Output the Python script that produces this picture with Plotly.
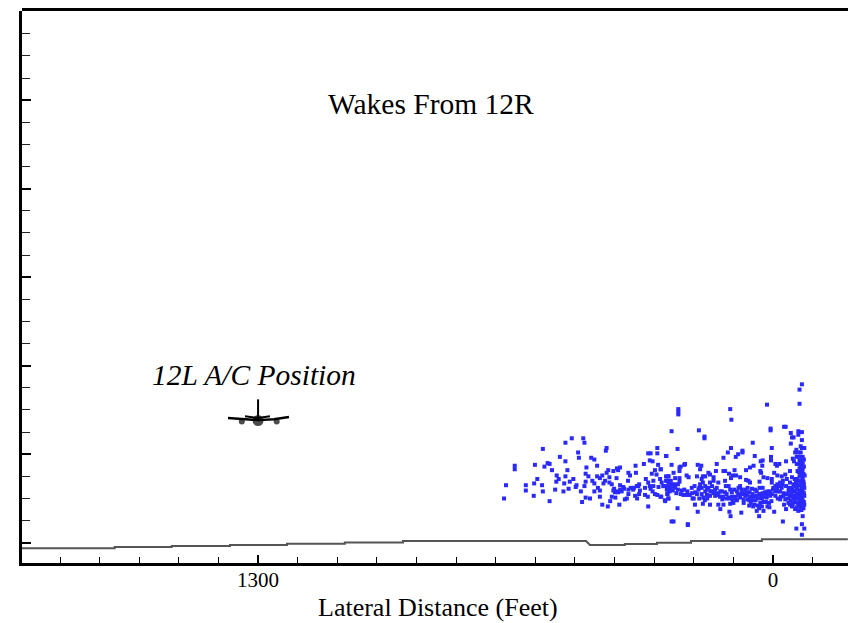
import plotly.graph_objects as go

wake_points = [
(679,50),(674,65),(652,87),(652,83),(624,65),(624,59),(604,53),(603,67),(595,72),(601,88),(581,106),(583,65),(581,58),(577,86),(569,90),(564,89),(564,47),(558,82),(550,60),(546,76),(547,69),(541,72),(538,97),(529,58),(527,67),(524,75),(524,92),(524,113),(519,82),(516,61),(513,69),(508,118),(504,72),(498,63),(496,65),(492,102),(490,96),(485,58),(482,46),(479,118),(476,113),(473,78),(476,64),(473,69),(473,51),(471,85),(466,75),(462,50),(459,96),(451,94),(456,70),(451,67),(451,58),(444,87),(444,75),(442,62),(437,73),(437,59),(437,52),(431,76),(431,43),(428,67),(424,70),(422,104),(420,107),(420,79),(417,41),(416,82),(413,74),(413,68),(407,66),(411,47),(407,52),(403,81),(401,61),(398,51),(395,73),(394,84),(391,82),(386,85),(388,43),(391,57),(386,65),(382,58),(378,63),(374,49),(369,50),(366,70),(365,79),(361,76),(365,55),(359,62),(353,60),(348,53),(347,87),(346,79),(344,64),(343,50),(338,66),(336,59),(338,55),(326,89),(323,62),(321,72),(323,54),(316,52),(315,41),(315,101),(309,101),(311,93),(304,92),(315,68),(306,78),(298,82),(294,77),(292,107),(292,101),(290,88),(284,83),(269,98),(264,75),(285,72),(302,70),(309,61),(304,58),(298,55),(292,54),(284,52),(273,48),(264,50),(277,64),(289,63),(267,70),(266,64),(264,59),(267,55),
(399,57),(393,58),(386,60),(376,61),(403,59),(365,60),(351,62),(340,64),(311,64),(302,64),
(-73,179),(-67,173),(-67,157),(15,156),(108,151),(105,139),(239,151),(239,148),(239,145),(256,126),(187,127),(173,120),(173,118),(-28,131),(-32,131),(6,129),(6,127),(-45,124),(-64,126),(-64,122),(-73,125),(-48,119),(-52,119),(-73,116),(-45,112),(51,113),(106,107),(114,102),(125,96),(94,97),(88,100),(77,104),(77,102),(46,98),(3,107),(241,106),(270,98),(-70,109),(-79,107),(-73,107),(-59,105),(-56,102),(-64,102),(-70,102),
(283,83),(270,75),(264,75),(256,88),(251,79),(247,73),(236,85),(236,81),(233,86),(224,88),(222,89),(236,73),(236,69),(218,76),(213,74),(192,75),(190,88),(184,83),(181,87),(177,75),(171,75),(281,68),(275,64),(270,70),(264,68),(258,70),(264,62),(258,62),(251,64),(247,62),(261,58),(253,59),(266,55),(282,52),(272,47),(264,50),(241,39),(256,24),(251,24),(215,21),(215,20),(190,35),(197,43),(203,50),(177,44),(230,59),(224,60),(233,55),(226,54),(218,54),(216,58),(205,62),(198,64),(192,55),(186,62),(180,55),(176,51),(177,68),(180,72),(171,64),(167,60),(167,54),(159,43),(163,79),(159,77),(150,74),(144,81),(142,89),(159,68),(154,64),(154,58),(150,70),(146,60),(146,53),(138,68),(133,38),(138,43),(129,58),(128,49),(125,81),(121,81),(121,70),(119,64),(117,55),(125,43),(111,78),(106,73),(101,76),(97,82),(93,76),(83,74),(112,64),(108,60),(104,57),(110,35),(107,30),(125,11),(108,44),(100,45),(96,52),(91,48),(85,54),(80,34),(83,64),(79,60),(74,45),(70,53),(68,82),(68,71),(62,70),(58,68),(58,85),(49,87),(64,62),(59,57),(53,61),(64,49),(56,45),(49,52),(47,43),(41,36),(35,30),(35,39),(28,41),(24,36),(14,41),(9,40),(-3,35),(41,58),(34,62),(26,62),(20,57),(14,58),(7,53),(34,69),(24,74),(14,73),(3,72),(3,68),(32,81),(30,79),(27,87),(31,92),(26,93),(5,97),(5,93),(-6,89),(-10,87),(-16,89),(-33,92),(-3,79),(-11,76),(-22,75),(-31,77),(-43,81),(-6,64),(-11,66),(-18,68),(-25,70),(-35,72),(-48,74),(-6,53),(-14,58),(-22,62),(-33,64),(-43,68),(-25,24),(-28,43),(-33,38),(-18,49),(-31,49),(-39,45),(-48,53),(-52,58),(-39,58),(-56,64),(-48,41),(-56,38),(-64,36),(-59,16),(-73,21),(-79,16),(-73,9),(-75,30),
(-50,95),(-53,92),(-60,97),(-60,89),(-67,97),(-75,97),(-67,93),(-75,92),(-67,89),(-75,88),(-67,84),(-75,83),(-62,81),(-69,79),(-77,78),(-67,75),(-75,73),(-80,76),(-60,72),(-69,70),(-77,69),(-64,65),(-73,64),(-79,62),(-59,60),(-67,59),(-75,58),(-62,55),(-70,54),(-79,53),(-59,50),(-67,49),(-75,48),(-62,45),(-70,44),(-79,43),(-59,40),(-69,40),(-77,39),(-67,55),(-73,70),(-73,81),(-73,90),(-73,95),(-73,61),(-73,51),(-73,41),(-64,45),
(184,66),(171,58),(163,62),(159,53),(142,62),(133,58),(138,54),(121,57),(112,51),(104,52),(98,60),(91,58),(87,62),(83,51),(76,55),(70,60),(64,57),(58,52),(51,55),(45,60),(41,53),(34,55),(28,50),(22,52),(16,51),(74,49),(32,45),(24,46),(-1,62),(-10,60),(-18,58),(-27,56),(-35,55),(-43,53),(-56,53),(-48,60),(-27,53),(-6,58),(3,55),
(-70,86),(-78,86),(-70,92),(-78,94),(-70,76),(-65,80),(-65,70),(-70,66),(-78,66),(-55,72),(-52,66),(-46,62),(-40,62),(-58,68),(-62,63),(-55,58),(-46,56),(-38,50),(-52,50),(-45,48),(-55,46),(-65,52),(-71,58),(-78,56),(-65,42),(-72,47),(-78,46),(-72,37),(-50,44),(-43,43),(-60,55),
(-24,66),(-16,64),(-8,62),(0,60),(8,58),(12,55),(18,54),(26,56),(30,52),(38,50),(44,48),(52,48),(60,48),(66,54),(72,56),(80,56),(88,54),(94,50),(102,48),(110,50),(118,50),(126,52),(134,52),(142,56),(150,56),(158,58),(166,50),(172,48),(180,62),(188,60),(196,57),(204,56),(210,54),(240,60),(244,56),(248,66),(255,66),(260,64),(268,60),(240,66),(200,50),(186,50),(10,45),(4,47),(-12,50),(-20,52),(18,46),(38,42),(50,41),(60,42),
]
wake_lateral_ft = [p[0] for p in wake_points]
wake_height_ft = [p[1] for p in wake_points]

ground_lateral_ft = [1896,1662,1662,1518,1518,1371,1371,1227,1227,1081,1081,934,934,472,462,374,374,293,293,207,207,28,28,-189]
ground_height_ft = [-6.3,-6.3,-4.9,-4.9,-3.7,-3.7,-2.6,-2.6,-1.2,-1.2,0.2,0.2,2,2,-2.6,-2.6,-1.5,-1.5,0,0,2,2,3.8,3.8]

# aircraft glyph, drawn at its lateral position
wing_x = [1376,1340,1300,1260,1222]
wing_y = [141,139.5,138.5,139.5,142]
tail_x = [1333,1300,1270]
tail_y = [143,141,143]
fin_x = [1300,1300]
fin_y = [162,140]
body_x = [1341,1300,1253]
body_y = [137,138,137]
body_sizes = [6,11,6]

x_tick_vals = [1300,0]
x_tick_text = ["1300","0"]

fig = go.Figure()
fig.add_trace(go.Scatter(x=ground_lateral_ft,y=ground_height_ft,mode="lines",line=dict(color="#555555",width=2)))
fig.add_trace(go.Scatter(x=wake_lateral_ft,y=wake_height_ft,mode="markers",
    marker=dict(symbol="square",size=4,color="#2a2aff",line=dict(width=0))))
for xs,ys,w in [(wing_x,wing_y,2.4),(tail_x,tail_y,2),(fin_x,fin_y,2)]:
    fig.add_trace(go.Scatter(x=xs,y=ys,mode="lines",line=dict(color="black",width=w)))
fig.add_trace(go.Scatter(x=body_x,y=body_y,mode="markers",marker=dict(color="black",size=body_sizes,line=dict(width=0))))

serif = "Liberation Serif"
fig.add_annotation(x=864,y=496,text="Wakes From 12R",showarrow=False,font=dict(family=serif,size=29.5,color="black"))
fig.add_annotation(x=1311,y=189,text="<i>12L A/C Position</i>",showarrow=False,font=dict(family=serif,size=29.5,color="black"))
fig.add_annotation(x=847,yref="paper",y=0,yshift=-61,text="Lateral Distance (Feet)",showarrow=False,font=dict(family=serif,size=26,color="black"))

fig.update_layout(
    width=848,height=623,autosize=False,showlegend=False,
    paper_bgcolor="white",plot_bgcolor="white",
    margin=dict(l=22,r=0,t=11,b=60),
    xaxis=dict(range=[1896,-189.4],showgrid=False,zeroline=False,showline=True,linecolor="black",linewidth=3,
        tickmode="array",tickvals=x_tick_vals,ticktext=x_tick_text,ticks="inside",ticklen=8,tickwidth=2,tickcolor="black",
        ticklabelstandoff=-4,
        tickfont=dict(family=serif,size=21,color="black"),
        minor=dict(ticks="inside",dtick=100,tick0=0,ticklen=6,tickwidth=1,tickcolor="black",showgrid=False)),
    yaxis=dict(range=[-22.9,600.8],showgrid=False,zeroline=False,showline=True,linecolor="black",linewidth=3,
        dtick=100,tick0=0,ticks="inside",ticklen=9,tickwidth=2,tickcolor="black",showticklabels=False,
        minor=dict(ticks="inside",dtick=25,tick0=0,ticklen=8,tickwidth=1,tickcolor="#222222",showgrid=False)),
    shapes=[dict(type="line",xref="paper",yref="paper",x0=0,x1=1,y0=1.0027,y1=1.0027,line=dict(color="black",width=3))],
)
fig.write_html("out.html",config={"displayModeBar":False},post_script="document.body.style.margin='0';document.documentElement.style.overflow='hidden';")
